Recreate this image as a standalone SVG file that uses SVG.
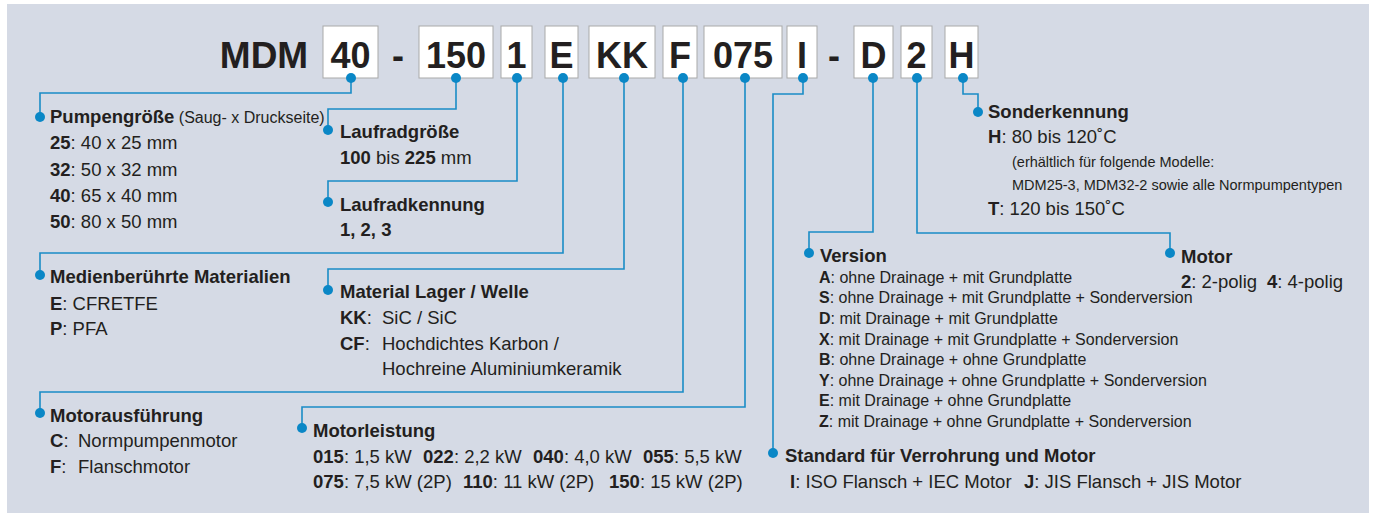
<svg xmlns="http://www.w3.org/2000/svg" width="1375" height="513" viewBox="0 0 1375 513">
<style>
text{font-family:"Liberation Sans",Arial,sans-serif;fill:#231f20}
.code{font-size:36px;font-weight:bold;text-anchor:middle}
.box{fill:#fff;stroke:#a9a9a9;stroke-width:1}
.h{font-size:18.5px;font-weight:bold}
.t{font-size:18.5px}
.v{font-size:16px}
.s{font-size:14.5px}
.b{font-weight:bold}
.ln{fill:none;stroke:#1a8cc6;stroke-width:1.6}
.dot{fill:#0a87c6}
</style>
<rect x="7" y="4" width="1362" height="509" fill="#d5dae5"/>
<g id="code">
<text x="264" y="68" class="code" style="font-size:37px">MDM</text>
<rect class="box" x="323" y="26" width="55" height="52"/><text class="code" x="350.5" y="68">40</text>
<text class="code" x="398" y="68">-</text>
<rect class="box" x="419" y="26" width="74" height="52"/><text class="code" x="456" y="68">150</text>
<rect class="box" x="501" y="26" width="31" height="52"/><text class="code" x="516.5" y="68">1</text>
<rect class="box" x="545" y="26" width="33" height="52"/><text class="code" x="561.5" y="68">E</text>
<rect class="box" x="589" y="26" width="66" height="52"/><text class="code" x="622" y="68">KK</text>
<rect class="box" x="663" y="26" width="34" height="52"/><text class="code" x="680" y="68">F</text>
<rect class="box" x="704" y="26" width="78" height="52"/><text class="code" x="743" y="68">075</text>
<rect class="box" x="787" y="26" width="30" height="52"/><text class="code" x="802" y="68">I</text>
<text class="code" x="834" y="68">-</text>
<rect class="box" x="854" y="26" width="39" height="52"/><text class="code" x="873.5" y="68">D</text>
<rect class="box" x="901" y="26" width="31" height="52"/><text class="code" x="916.5" y="68">2</text>
<rect class="box" x="945" y="26" width="33" height="52"/><text class="code" x="961.5" y="68">H</text>
</g>
<g id="connectors">
<path class="ln" d="M351,78 V93 H40 V117"/>
<path class="ln" d="M456,78 V109 H328 V130"/>
<path class="ln" d="M517,78 V181 H328 V202"/>
<path class="ln" d="M563,78 V253 H40 V275"/>
<path class="ln" d="M624,78 V269 H328 V290"/>
<path class="ln" d="M683,78 V392 H40 V413"/>
<path class="ln" d="M745,78 V407 H302 V428"/>
<path class="ln" d="M803,78 V94 H773 V453"/>
<path class="ln" d="M873,78 V232 H809 V253"/>
<path class="ln" d="M917,78 V233 H1170 V253"/>
<path class="ln" d="M963,78 V94 H978 V112"/>
<g class="dot">
<circle cx="351" cy="78" r="5"/><circle cx="456" cy="78" r="5"/><circle cx="517" cy="78" r="5"/><circle cx="563" cy="78" r="5"/><circle cx="624" cy="78" r="5"/><circle cx="683" cy="78" r="5"/><circle cx="745" cy="78" r="5"/><circle cx="803" cy="78" r="5"/><circle cx="873" cy="78" r="5"/><circle cx="917" cy="78" r="5"/><circle cx="963" cy="78" r="5"/>
<circle cx="40" cy="117" r="5"/><circle cx="328" cy="130" r="5"/><circle cx="328" cy="202" r="5"/><circle cx="40" cy="275" r="5"/><circle cx="328" cy="290" r="5"/><circle cx="40" cy="413" r="5"/><circle cx="302" cy="428" r="5"/><circle cx="773" cy="453" r="5"/><circle cx="809" cy="253" r="5"/><circle cx="1170" cy="253" r="5"/><circle cx="978" cy="112" r="5"/>
</g>
</g>
<g id="pumpengroesse">
<text x="50" y="123"><tspan class="h">Pumpengröße</tspan><tspan class="v"> (Saug- x Druckseite)</tspan></text>
<text class="t" x="50" y="149"><tspan class="b">25</tspan>: 40 x 25 mm</text>
<text class="t" x="50" y="176"><tspan class="b">32</tspan>: 50 x 32 mm</text>
<text class="t" x="50" y="202"><tspan class="b">40</tspan>: 65 x 40 mm</text>
<text class="t" x="50" y="228"><tspan class="b">50</tspan>: 80 x 50 mm</text>
</g>
<g id="laufradgroesse">
<text class="h" x="340" y="138">Laufradgröße</text>
<text class="t" x="340" y="164"><tspan class="b">100</tspan> bis <tspan class="b">225</tspan> mm</text>
</g>
<g id="laufradkennung">
<text class="h" x="340" y="211">Laufradkennung</text>
<text class="h" x="340" y="236">1, 2, 3</text>
</g>
<g id="medien">
<text class="h" x="50" y="283">Medienberührte Materialien</text>
<text class="t" x="50" y="310"><tspan class="b">E</tspan>: CFRETFE</text>
<text class="t" x="50" y="335"><tspan class="b">P</tspan>: PFA</text>
</g>
<g id="lager">
<text class="h" x="340" y="298">Material Lager / Welle</text>
<text class="t" x="340" y="324"><tspan class="b">KK</tspan>:<tspan x="382">SiC / SiC</tspan></text>
<text class="t" x="340" y="350"><tspan class="b">CF</tspan>:<tspan x="382">Hochdichtes Karbon /</tspan></text>
<text class="t" x="382" y="375">Hochreine Aluminiumkeramik</text>
</g>
<g id="motorausfuehrung">
<text class="h" x="50" y="422">Motorausführung</text>
<text class="t" x="50" y="447"><tspan class="b">C</tspan>:<tspan x="78">Normpumpenmotor</tspan></text>
<text class="t" x="50" y="473"><tspan class="b">F</tspan>:<tspan x="78">Flanschmotor</tspan></text>
</g>
<g id="motorleistung">
<text class="h" x="313" y="437">Motorleistung</text>
<text class="t" y="463"><tspan x="313" class="b">015</tspan>: 1,5 kW<tspan x="423" class="b">022</tspan>: 2,2 kW<tspan x="533" class="b">040</tspan>: 4,0 kW<tspan x="643" class="b">055</tspan>: 5,5 kW</text>
<text class="t" y="488"><tspan x="313" class="b">075</tspan>: 7,5 kW (2P)<tspan x="463" class="b">110</tspan>: 11 kW (2P)<tspan x="609" class="b">150</tspan>: 15 kW (2P)</text>
</g>
<g id="standard">
<text class="h" x="785" y="462">Standard für Verrohrung und Motor</text>
<text class="t" y="488"><tspan x="790" class="b">I</tspan>: ISO Flansch + IEC Motor<tspan x="1024" class="b">J</tspan>: JIS Flansch + JIS Motor</text>
</g>
<g id="version">
<text class="h" x="820" y="262">Version</text>
<text class="v" x="819" y="283"><tspan class="b">A</tspan>: ohne Drainage + mit Grundplatte</text>
<text class="v" x="819" y="303"><tspan class="b">S</tspan>: ohne Drainage + mit Grundplatte + Sonderversion</text>
<text class="v" x="819" y="324"><tspan class="b">D</tspan>: mit Drainage + mit Grundplatte</text>
<text class="v" x="819" y="345"><tspan class="b">X</tspan>: mit Drainage + mit Grundplatte + Sonderversion</text>
<text class="v" x="819" y="365"><tspan class="b">B</tspan>: ohne Drainage + ohne Grundplatte</text>
<text class="v" x="819" y="386"><tspan class="b">Y</tspan>: ohne Drainage + ohne Grundplatte + Sonderversion</text>
<text class="v" x="819" y="406"><tspan class="b">E</tspan>: mit Drainage + ohne Grundplatte</text>
<text class="v" x="819" y="427"><tspan class="b">Z</tspan>: mit Drainage + ohne Grundplatte + Sonderversion</text>
</g>
<g id="motor">
<text class="h" x="1181" y="263">Motor</text>
<text class="t" y="288"><tspan x="1181" class="b">2</tspan>: 2-polig<tspan x="1267" class="b">4</tspan>: 4-polig</text>
</g>
<g id="sonderkennung">
<text class="h" x="988" y="118">Sonderkennung</text>
<text class="t" x="988" y="143"><tspan class="b">H</tspan>: 80 bis 120˚C</text>
<text class="s" x="1012" y="167">(erhältlich für folgende Modelle:</text>
<text class="s" x="1012" y="190">MDM25-3, MDM32-2 sowie alle Normpumpentypen</text>
<text class="t" x="988" y="215"><tspan class="b">T</tspan>: 120 bis 150˚C</text>
</g>
</svg>
